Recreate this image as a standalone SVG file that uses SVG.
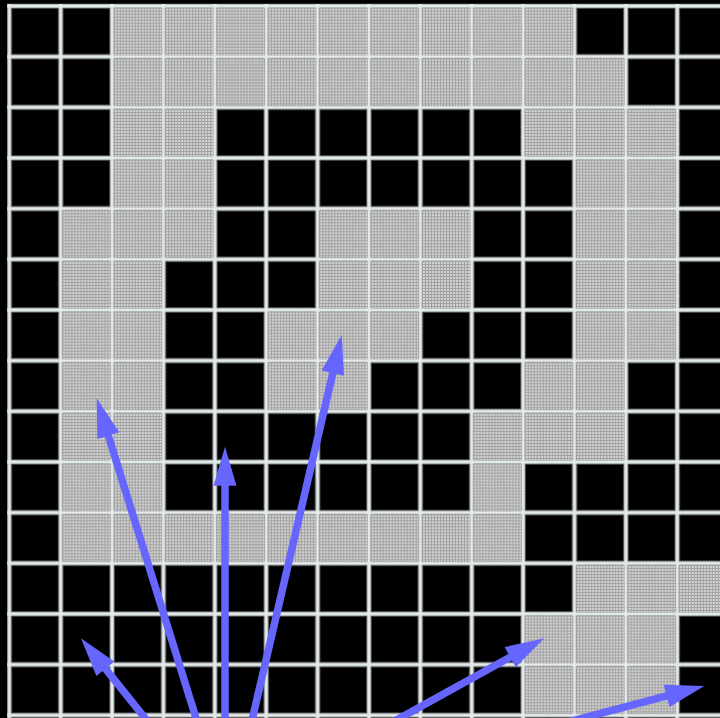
<svg xmlns="http://www.w3.org/2000/svg" xmlns:xlink="http://www.w3.org/1999/xlink" width="720" height="718" viewBox="0 0 720 718">
<defs>
<style>
.arrow{stroke:#6666ff;stroke-width:7.5;fill:none;marker-end:url(#ah)}
</style>
<pattern id="dots" width="3" height="3" patternUnits="userSpaceOnUse">
<rect width="3" height="3" fill="#d2d2d2"/>
<rect width="3" height="1" fill="#a2a2a2"/>
<rect width="1" height="3" fill="#a2a2a2"/>
</pattern>
<pattern id="cells" patternUnits="userSpaceOnUse" x="9.3" y="6" width="51.38" height="50.66">
<rect x="2.2" y="2.2" width="46.98" height="46.26" fill="#000" stroke="#4a4a4a" stroke-width="1"/>
</pattern>
<rect id="gc" width="48" height="47.3" fill="url(#dots)"/>
<marker id="ah" markerUnits="userSpaceOnUse" markerWidth="40" markerHeight="24" refX="3" refY="11.5" orient="auto" overflow="visible">
<path d="M0,0 L39,11.5 L0,23 z" fill="#6666ff"/>
</marker>
</defs>
<rect width="720" height="718" fill="#000"/>
<g id="grid">
<rect x="7.1" y="3.85" width="712.9" height="714.15" fill="#e3eaea"/>
<rect x="7.1" y="3.85" width="712.9" height="714.15" fill="url(#cells)"/>
</g>
<g id="gray-cells">
<g id="row0">
<use xlink:href="#gc" x="113.8" y="7.7"/><use xlink:href="#gc" x="165.1" y="7.7"/><use xlink:href="#gc" x="216.5" y="7.7"/><use xlink:href="#gc" x="267.9" y="7.7"/><use xlink:href="#gc" x="319.3" y="7.7"/><use xlink:href="#gc" x="370.7" y="7.7"/><use xlink:href="#gc" x="422.0" y="7.7"/><use xlink:href="#gc" x="473.4" y="7.7"/><use xlink:href="#gc" x="524.8" y="7.7"/>
</g>
<g id="row1">
<use xlink:href="#gc" x="113.8" y="58.4"/><use xlink:href="#gc" x="165.1" y="58.4"/><use xlink:href="#gc" x="216.5" y="58.4"/><use xlink:href="#gc" x="267.9" y="58.4"/><use xlink:href="#gc" x="319.3" y="58.4"/><use xlink:href="#gc" x="370.7" y="58.4"/><use xlink:href="#gc" x="422.0" y="58.4"/><use xlink:href="#gc" x="473.4" y="58.4"/><use xlink:href="#gc" x="524.8" y="58.4"/><use xlink:href="#gc" x="576.2" y="58.4"/>
</g>
<g id="row2">
<use xlink:href="#gc" x="113.8" y="109.0"/><use xlink:href="#gc" x="165.1" y="109.0"/><use xlink:href="#gc" x="524.8" y="109.0"/><use xlink:href="#gc" x="576.2" y="109.0"/><use xlink:href="#gc" x="627.6" y="109.0"/>
</g>
<g id="row3">
<use xlink:href="#gc" x="113.8" y="159.7"/><use xlink:href="#gc" x="165.1" y="159.7"/><use xlink:href="#gc" x="576.2" y="159.7"/><use xlink:href="#gc" x="627.6" y="159.7"/>
</g>
<g id="row4">
<use xlink:href="#gc" x="62.4" y="210.3"/><use xlink:href="#gc" x="113.8" y="210.3"/><use xlink:href="#gc" x="165.1" y="210.3"/><use xlink:href="#gc" x="319.3" y="210.3"/><use xlink:href="#gc" x="370.7" y="210.3"/><use xlink:href="#gc" x="422.0" y="210.3"/><use xlink:href="#gc" x="576.2" y="210.3"/><use xlink:href="#gc" x="627.6" y="210.3"/>
</g>
<g id="row5">
<use xlink:href="#gc" x="62.4" y="261.0"/><use xlink:href="#gc" x="113.8" y="261.0"/><use xlink:href="#gc" x="319.3" y="261.0"/><use xlink:href="#gc" x="370.7" y="261.0"/><use xlink:href="#gc" x="422.0" y="261.0"/><use xlink:href="#gc" x="576.2" y="261.0"/><use xlink:href="#gc" x="627.6" y="261.0"/>
</g>
<g id="row6">
<use xlink:href="#gc" x="62.4" y="311.7"/><use xlink:href="#gc" x="113.8" y="311.7"/><use xlink:href="#gc" x="267.9" y="311.7"/><use xlink:href="#gc" x="319.3" y="311.7"/><use xlink:href="#gc" x="370.7" y="311.7"/><use xlink:href="#gc" x="576.2" y="311.7"/><use xlink:href="#gc" x="627.6" y="311.7"/>
</g>
<g id="row7">
<use xlink:href="#gc" x="62.4" y="362.3"/><use xlink:href="#gc" x="113.8" y="362.3"/><use xlink:href="#gc" x="267.9" y="362.3"/><use xlink:href="#gc" x="319.3" y="362.3"/><use xlink:href="#gc" x="524.8" y="362.3"/><use xlink:href="#gc" x="576.2" y="362.3"/>
</g>
<g id="row8">
<use xlink:href="#gc" x="62.4" y="413.0"/><use xlink:href="#gc" x="113.8" y="413.0"/><use xlink:href="#gc" x="473.4" y="413.0"/><use xlink:href="#gc" x="524.8" y="413.0"/><use xlink:href="#gc" x="576.2" y="413.0"/>
</g>
<g id="row9">
<use xlink:href="#gc" x="62.4" y="463.6"/><use xlink:href="#gc" x="113.8" y="463.6"/><use xlink:href="#gc" x="473.4" y="463.6"/>
</g>
<g id="row10">
<use xlink:href="#gc" x="62.4" y="514.3"/><use xlink:href="#gc" x="113.8" y="514.3"/><use xlink:href="#gc" x="165.1" y="514.3"/><use xlink:href="#gc" x="216.5" y="514.3"/><use xlink:href="#gc" x="267.9" y="514.3"/><use xlink:href="#gc" x="319.3" y="514.3"/><use xlink:href="#gc" x="370.7" y="514.3"/><use xlink:href="#gc" x="422.0" y="514.3"/><use xlink:href="#gc" x="473.4" y="514.3"/>
</g>
<g id="row11">
<use xlink:href="#gc" x="576.2" y="565.0"/><use xlink:href="#gc" x="627.6" y="565.0"/><use xlink:href="#gc" x="678.9" y="565.0"/>
</g>
<g id="row12">
<use xlink:href="#gc" x="524.8" y="615.6"/><use xlink:href="#gc" x="576.2" y="615.6"/><use xlink:href="#gc" x="627.6" y="615.6"/>
</g>
<g id="row13">
<use xlink:href="#gc" x="524.8" y="666.3"/><use xlink:href="#gc" x="576.2" y="666.3"/><use xlink:href="#gc" x="627.6" y="666.3"/>
</g>
</g>
<g id="connectors">
<line class="arrow" x1="157.5" y1="733.6" x2="103.5" y2="666.4"/>
<line class="arrow" x1="201.9" y1="737.1" x2="107.4" y2="432.7"/>
<line class="arrow" x1="225" y1="740" x2="225" y2="482.7"/>
<line class="arrow" x1="248" y1="737.5" x2="333.5" y2="370.1"/>
<line class="arrow" x1="382.5" y1="727.7" x2="512.8" y2="655.7"/>
<line class="arrow" x1="563.7" y1="723.1" x2="669.5" y2="695.2"/>
</g>
</svg>
